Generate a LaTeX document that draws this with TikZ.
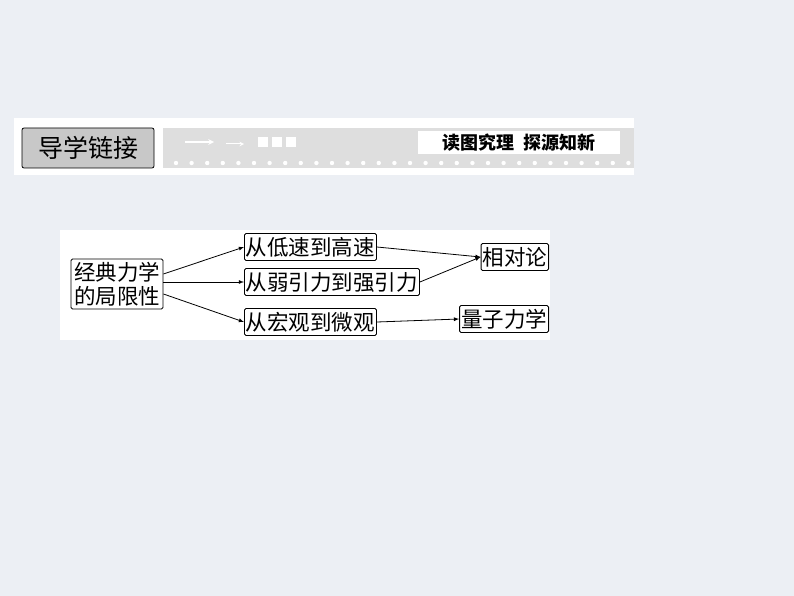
\documentclass[tikz,border=0pt]{standalone}
\usepackage{fontspec}
\newfontfamily\cjk{Noto Sans CJK SC}
\usetikzlibrary{positioning}
\definecolor{bgc}{RGB}{236,239,244}
\definecolor{barc}{RGB}{222,222,222}
\definecolor{tagc}{RGB}{200,200,200}
\tikzset{
  box/.style={draw,rounded corners=1.5pt,line width=0.9pt,fill=white,inner sep=1.5pt,minimum height=27pt,font=\cjk\fontsize{21.5}{24}\selectfont},
  link/.style={-latex,line width=0.8pt}
}
\begin{document}
\begin{tikzpicture}[x=1pt,y=-1pt]
\useasboundingbox (0,0) rectangle (794,596);
\fill[bgc] (0,0) rectangle (794,596);
%标题栏
\fill[white] (14,118) rectangle (634,175);
\fill[barc] (163,128) rectangle (634,168);
\node[draw,fill=tagc,rounded corners=2pt,line width=0.8pt,minimum width=132pt,minimum height=40pt,font=\cjk\fontsize{25}{27}\selectfont] (tag) at (88,148) {导学链接};
\node[fill=white,minimum width=202pt,minimum height=23pt,inner sep=0pt,font=\cjk\bfseries\fontsize{18}{20}\selectfont] (motto) at (519,143) {读图究理\ \ 探源知新};
\draw[white,line width=1.5pt,-stealth] (185,142) -- (214,142);
\draw[white,line width=1pt,-stealth] (226,144) -- (244,144);
\foreach \x in {258,272,286} \fill[white] (\x,137) rectangle +(10,10);
\foreach \x in {0,...,29} \fill[white] (176+\x*15.6,163) circle (2.2);
%框图
\fill[white] (60,230) rectangle (550,340);
\node[box,align=center,inner sep=3pt] (lim) at (117,284) {经典力学\\的局限性};
\node[box,anchor=west] (low) at (244,247) {从低速到高速};
\node[box,anchor=west] (weak) at (244,282) {从弱引力到强引力};
\node[box,anchor=west] (macro) at (244,322) {从宏观到微观};
\node[box,anchor=east] (rel) at (549,257) {相对论};
\node[box,anchor=east] (qm) at (549,319) {量子力学};
\draw[link] (lim.east|-0,274) -- (low.west);
\draw[link] (lim.east|-0,282) -- (weak.west);
\draw[link] (lim.east|-0,294) -- (macro.west);
\draw[link] (low.east) -- (rel.west);
\draw[link] (weak.east) -- (rel.west);
\draw[link] (macro.east) -- (qm.west);
\end{tikzpicture}
\end{document}
